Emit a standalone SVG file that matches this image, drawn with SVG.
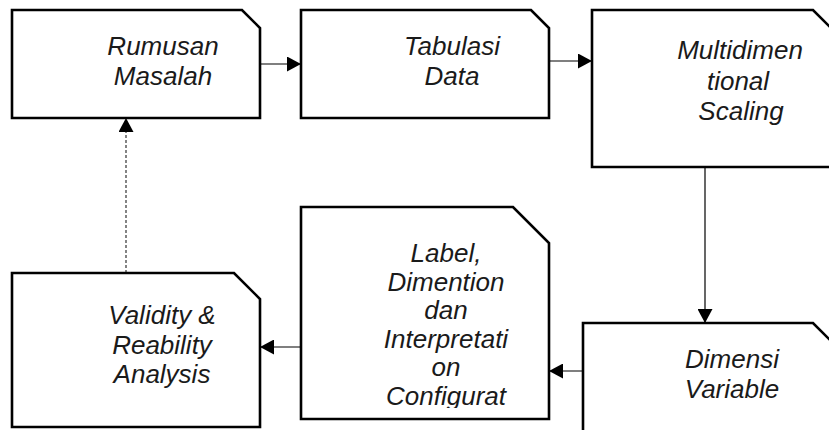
<svg xmlns="http://www.w3.org/2000/svg" width="829" height="430" viewBox="0 0 829 430">
  <style>
    .box { fill: #ffffff; stroke: #000000; stroke-width: 2.6; stroke-linejoin: miter; }
    .lbl { font-family: "Liberation Sans", Arial, sans-serif; font-style: italic; font-size: 26px; fill: #1a1a1a; text-anchor: middle; }
    .conn { stroke: #000000; stroke-width: 1.2; fill: none; }
    .dash { stroke: #333333; stroke-width: 1.2; fill: none; stroke-dasharray: 3 2; }
  </style>
  <defs>
    <marker id="arr" markerUnits="userSpaceOnUse" markerWidth="14" markerHeight="15" refX="14" refY="7.5" orient="auto">
      <path d="M0,0 L14,7.5 L0,15 z" fill="#000000"/>
    </marker>
    <clipPath id="clip5">
      <rect x="303" y="209" width="244" height="199"/>
    </clipPath>
  </defs>
  <rect width="829" height="430" fill="#ffffff"/>

  <g id="connectors">
    <line class="conn" x1="260" y1="64" x2="301" y2="64" marker-end="url(#arr)"/>
    <line class="conn" x1="549" y1="61" x2="592" y2="61" marker-end="url(#arr)"/>
    <line class="conn" x1="705" y1="167" x2="705" y2="323" marker-end="url(#arr)"/>
    <line class="conn" x1="583" y1="371" x2="549" y2="371" marker-end="url(#arr)"/>
    <line class="conn" x1="301" y1="347" x2="260" y2="347" marker-end="url(#arr)"/>
    <line class="dash" x1="126" y1="273" x2="126" y2="118" marker-end="url(#arr)"/>
  </g>

  <g id="node-rumusan">
    <path class="box" d="M12,10 H242 L260,28 V118 H12 Z"/>
    <text class="lbl" x="163" y="55">Rumusan</text>
    <text class="lbl" x="163" y="85">Masalah</text>
  </g>

  <g id="node-tabulasi">
    <path class="box" d="M301,10 H531 L549,28 V118 H301 Z"/>
    <text class="lbl" x="452" y="55">Tabulasi</text>
    <text class="lbl" x="452" y="85">Data</text>
  </g>

  <g id="node-mds">
    <path class="box" d="M592,10 H813 L831,28 V167 H592 Z"/>
    <text class="lbl" x="740" y="59">Multidimen</text>
    <text class="lbl" x="738" y="90">tional</text>
    <text class="lbl" x="741" y="120">Scaling</text>
  </g>

  <g id="node-dimensi">
    <path class="box" d="M583,323 H813 L831,341 V440 H583 Z"/>
    <text class="lbl" x="732" y="368">Dimensi</text>
    <text class="lbl" x="732" y="398">Variable</text>
  </g>

  <g id="node-label">
    <path class="box" d="M301,207 H513 L549,243 V419 H301 Z"/>
    <g clip-path="url(#clip5)">
      <text class="lbl" x="446" y="262">Label,</text>
      <text class="lbl" x="446" y="291">Dimention</text>
      <text class="lbl" x="446" y="319">dan</text>
      <text class="lbl" x="446" y="348">Interpretati</text>
      <text class="lbl" x="446" y="376">on</text>
      <text class="lbl" x="446" y="405">Configurat</text>
    </g>
  </g>

  <g id="node-validity">
    <path class="box" d="M12,273 H234 L260,299 V427 H12 Z"/>
    <text class="lbl" x="162" y="324">Validity &amp;</text>
    <text class="lbl" x="162" y="354">Reability</text>
    <text class="lbl" x="162" y="383">Analysis</text>
  </g>
</svg>
